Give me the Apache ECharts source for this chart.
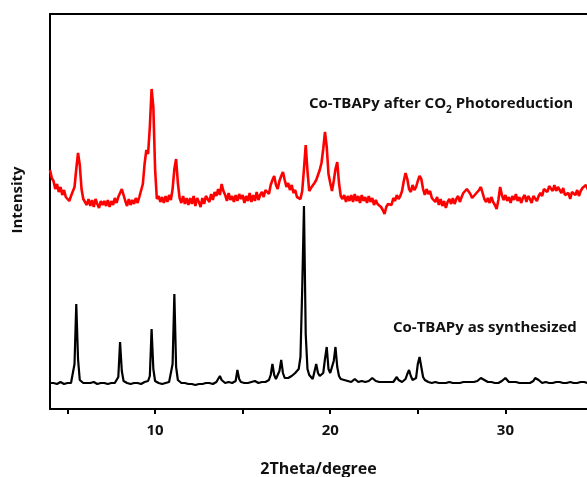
<!DOCTYPE html>
<html>
<head>
<meta charset="utf-8">
<script src="https://cdn.jsdelivr.net/npm/echarts@6/dist/echarts.min.js"></script>
<style>
  html, body { margin: 0; padding: 0; background: #fff; }
  #chart { width: 587px; height: 477px; }
</style>
</head>
<body>
<div id="chart"></div>
<script>
// Powder XRD patterns of Co-TBAPy, sampled every 0.1 degree from 4.0 to 35.0 (2Theta).
const scanStart = 4.0;    // first 2Theta value, degree
const scanStepTenths = 1; // step, tenths of a degree

// As-synthesized pattern (arbitrary intensity units)
const synthesized = [
  26,25,26,26,25,26,27,26,25,26,
  26,25,26,27,45,105,50,29,27,26,
  26,26,25,26,26,27,26,25,26,26,
  25,26,26,25,26,26,27,26,27,32,
  67,38,28,27,26,26,25,26,26,27,
  26,26,25,26,27,27,28,33,80,40,
  28,27,26,26,25,26,26,27,27,28,
  45,115,42,29,27,26,25,26,26,25,
  25,25,26,24,25,25,26,25,25,26,
  25,26,26,25,26,27,28,33,29,27,
  26,26,27,26,26,27,28,39,30,27,
  27,26,27,26,27,27,26,28,27,26,
  27,27,28,27,28,29,34,45,34,30,
  31,38,49,36,31,30,31,32,33,35,
  36,38,40,52,120,203,75,40,34,32,
  30,31,45,36,33,32,36,50,62,40,
  36,38,48,62,42,33,30,29,29,28,
  28,28,27,28,30,28,27,27,28,28,
  27,28,28,29,31,29,28,27,27,26,
  27,26,27,26,27,26,27,29,32,29,
  28,27,28,30,35,39,33,29,28,31,
  45,52,42,32,29,28,27,27,26,27,
  27,26,26,27,26,27,26,26,27,26,
  26,27,26,27,26,27,27,28,27,26,
  27,26,27,27,28,29,31,32,29,27,
  27,26,27,26,26,27,26,27,28,29,
  31,29,27,26,27,26,27,26,26,27,
  26,27,26,27,26,27,28,31,33,29,
  27,26,26,27,26,26,27,26,26,27,
  26,27,26,26,27,26,26,27,26,26,
  27,26,26,27,26,27,26,26,27,26,
  26
];

// Pattern after CO2 photoreduction (same units, stacked above)
const afterPhotoreduction = [
  239,231,228,220,225,217,222,214,219,212,
  214,208,213,211,222,240,256,244,220,210,
  211,204,210,203,209,202,210,205,201,208,
  204,208,203,209,202,208,204,211,206,212,
  210,220,214,208,203,210,204,209,205,211,
  206,212,214,225,245,259,255,282,320,302,
  240,210,213,207,212,206,213,207,214,209,
  220,240,250,226,211,206,213,205,211,204,
  211,205,213,203,211,207,202,211,205,213,
  214,207,215,209,217,213,220,214,225,218,
  214,208,216,209,213,207,214,208,215,210,
  214,206,213,208,216,207,214,208,217,209,
  214,217,212,219,221,215,224,229,233,224,
  220,228,233,237,229,222,226,219,224,216,
  219,212,214,210,218,240,264,238,218,221,
  219,226,229,234,239,246,260,277,262,235,
  226,218,228,240,247,226,213,210,214,207,
  213,208,214,207,215,208,213,206,214,208,
  212,206,213,207,211,204,209,205,207,202,
  199,195,202,205,207,204,211,208,214,210,
  213,218,228,236,230,220,217,224,219,222,
  228,233,230,220,214,220,215,218,211,213,
  207,212,204,210,203,208,201,207,210,205,
  211,205,210,213,207,212,216,215,220,221,
  215,211,209,215,217,219,222,216,210,207,
  211,206,212,207,204,200,209,222,214,209,
  214,208,212,206,213,209,215,208,212,206,
  211,214,207,213,210,206,213,215,208,213,
  216,213,220,222,217,223,224,218,224,218,
  222,219,216,221,214,212,216,210,217,219,
  214,219,213,218,221,223,224,220,217,221,
  222
];

const tickValues = [5, 10, 15, 20, 25, 30];
const labelValues = [10, 20, 30];

function toPairs(values) {
  return values.map((v, i) => [(scanStart * 10 + i * scanStepTenths) / 10, v]);
}

const FONT = '"Open Sans", "DejaVu Sans", sans-serif';
const chart = echarts.init(document.getElementById('chart'), null, { renderer: 'canvas' });

chart.setOption({
  animation: false,
  backgroundColor: '#ffffff',
  grid: { left: 50, top: 14, bottom: 68, right: 0, containLabel: false, outerBoundsMode: 'none' },
  xAxis: [
    {
      type: 'value',
      min: 4,
      max: 34.66,
      position: 'bottom',
      name: '2Theta/degree',
      nameLocation: 'middle',
      nameGap: 52,
      nameTextStyle: { fontFamily: FONT, fontWeight: 'bold', fontSize: 16, color: '#111' },
      axisLine: { show: true, lineStyle: { color: '#000', width: 2 } },
      axisTick: { show: true, length: 5, lineStyle: { color: '#000', width: 2 }, customValues: tickValues },
      axisLabel: { show: true, margin: 14, fontFamily: FONT, fontWeight: 'bold', fontSize: 15, color: '#111', customValues: labelValues },
      splitLine: { show: false }
    },
    {
      type: 'value',
      min: 4,
      max: 34.66,
      position: 'top',
      axisLine: { show: true, lineStyle: { color: '#000', width: 2 } },
      axisTick: { show: false },
      axisLabel: { show: false },
      splitLine: { show: false }
    }
  ],
  yAxis: {
    type: 'value',
    min: 0,
    max: 395,
    axisLine: { show: true, lineStyle: { color: '#000', width: 2 } },
    axisTick: { show: false },
    axisLabel: { show: false },
    splitLine: { show: false }
  },
  series: [
    {
      name: 'Co-TBAPy as synthesized',
      type: 'line',
      data: toPairs(synthesized),
      showSymbol: false,
      lineStyle: { color: '#000000', width: 2.2 },
      z: 3
    },
    {
      name: 'Co-TBAPy after CO2 Photoreduction',
      type: 'line',
      data: toPairs(afterPhotoreduction),
      showSymbol: false,
      lineStyle: { color: '#ff0000', width: 2.6 },
      z: 2
    }
  ],
  graphic: [
    {
      type: 'text',
      x: 18, y: 200,
      rotation: Math.PI / 2,
      style: {
        text: 'Intensity',
        fontFamily: FONT, fontWeight: 'bold', fontSize: 15, fill: '#111',
        align: 'center', verticalAlign: 'middle'
      }
    },
    {
      type: 'text',
      x: 309, y: 104,
      style: {
        text: '{a|Co-TBAPy after CO}{s|2}{a| Photoreduction}',
        verticalAlign: 'middle',
        rich: {
          a: { fontFamily: FONT, fontWeight: 'bold', fontSize: 15, fill: '#111', lineHeight: 22 },
          s: { fontFamily: FONT, fontWeight: 'bold', fontSize: 10, fill: '#111', lineHeight: 22, verticalAlign: 'bottom' }
        }
      }
    },
    {
      type: 'text',
      x: 393, y: 328,
      style: {
        text: 'Co-TBAPy as synthesized',
        fontFamily: FONT, fontWeight: 'bold', fontSize: 15, fill: '#111',
        verticalAlign: 'middle'
      }
    }
  ]
});
</script>
</body>
</html>
